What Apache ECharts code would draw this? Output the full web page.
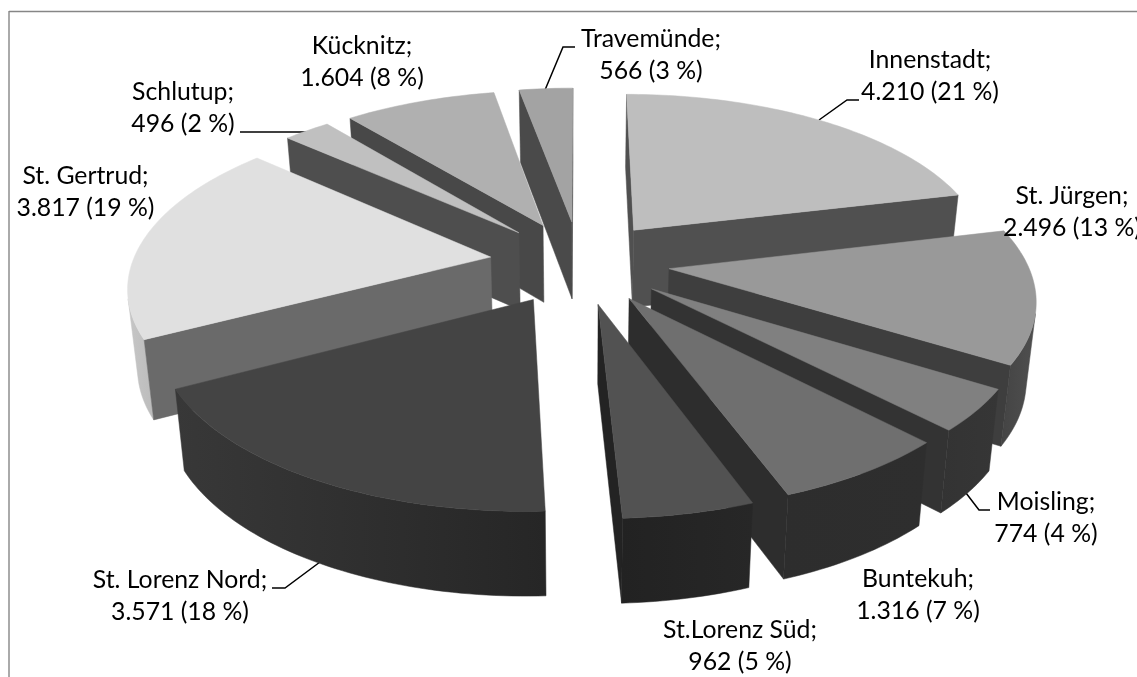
<!DOCTYPE html>
<html><head><meta charset="utf-8">
<style>html,body{margin:0;padding:0;background:#fff}#c{width:1137px;height:677px}</style>
<script src="https://cdn.jsdelivr.net/npm/echarts@6/dist/echarts.min.js"></script>
</head><body><div id="c"></div>
<script>
// Data
const categories = ['Innenstadt','St. Jürgen','Moisling','Buntekuh','St.Lorenz Süd','St. Lorenz Nord','St. Gertrud','Schlutup','Kücknitz','Travemünde'];
const values = [4210,2496,774,1316,962,3571,3817,496,1604,566];
const percentLabels = [21,13,4,7,5,18,19,2,8,3];

// Styles
const topColors    = ['#bebebe','#999999','#808080','#6f6f6f','#525252','#444444','#e0e0e0','#c0c0c0','#b0b0b0','#a3a3a3'];
const radialColors = ['#505050','#3e3e3e','#333333','#2d2d2d','#232323','#333333','#6a6a6a','#4e4e4e','#484848','#4a4a4a'];
const outerFrom    = ['#555555','#4f4f4f','#363636','#2e2e2e','#272727','#383838','#c6c6c6','#555555','#505050','#505050'];
const outerTo      = ['#555555','#444444','#333333','#2d2d2d','#222222','#262626','#bcbcbc','#555555','#505050','#505050'];

// Projection of the tilted, exploded pie
const P = {cx:579.6, cy:262, A:358, B:166, q:0.155, E:0.2514, H:78, bx:0.978};
const project = (X,Y,bottom) => {
  const f = 1/(1+P.q*Y);
  const x = P.cx + P.A*X*f, y = P.cy - P.B*Y*f;
  return bottom ? [P.cx+(x-P.cx)*P.bx, y+P.H*Math.pow(f,0.4)] : [x,y];
};
const area = pts => { let s=0; for(let i=0;i<pts.length;i++){const a=pts[i],b=pts[(i+1)%pts.length]; s+=a[0]*b[1]-b[0]*a[1];} return s/2; };
const total = values.reduce((a,b)=>a+b,0);

// slice angular spans
let acc = 0;
const spans = values.map(v => { const s=acc/total*2*Math.PI; acc+=v; return [s,acc/total*2*Math.PI]; });
// painter's order: back slices first
const order = values.map((_,i)=>i).sort((a,b)=>Math.cos((spans[b][0]+spans[b][1])/2)-Math.cos((spans[a][0]+spans[a][1])/2));

function renderSlice(params, api){
  const i = api.value(0);
  const [t0,t1] = spans[i];
  const mid=(t0+t1)/2;
  const ax=P.E*Math.sin(mid), ay=P.E*Math.cos(mid);
  const rim = (t,b)=>project(ax+Math.sin(t),ay+Math.cos(t),b);
  const aT=project(ax,ay,false), aB=project(ax,ay,true);
  const n=Math.max(6,Math.ceil((t1-t0)/0.02));
  const ts=[]; for(let k=0;k<=n;k++) ts.push(t0+(t1-t0)*k/n);
  const children=[];
  const poly=(pts,fill)=>children.push({type:'polygon',shape:{points:pts},style:{fill:fill,stroke:fill,lineWidth:0.5},silent:true});

  // outer wall: only visible strips, merged into one polygon
  let run=[]; const runs=[];
  for(let k=0;k<n;k++){
    const q=[rim(ts[k+1],false),rim(ts[k],false),rim(ts[k],true),rim(ts[k+1],true)];
    if(area(q)>0){ run.push(k);} else if(run.length){runs.push(run);run=[];}
  }
  if(run.length) runs.push(run);
  runs.forEach(r=>{
    const tops=[],bots=[];
    for(let j=r[0];j<=r[r.length-1]+1;j++){tops.push(rim(ts[j],false));bots.unshift(rim(ts[j],true));}
    const grad=new echarts.graphic.LinearGradient(0,0,1,0,[{offset:0,color:mid>Math.PI?outerFrom[i]:outerTo[i]},{offset:1,color:mid>Math.PI?outerTo[i]:outerFrom[i]}]);
    poly(tops.concat(bots),grad);
  });
  // radial walls, culled when they face away
  const w0=[rim(t0,false),aT,aB,rim(t0,true)];
  const w1=[aT,rim(t1,false),rim(t1,true),aB];
  if(area(w0)>0) poly(w0,radialColors[i]);
  if(area(w1)>0) poly(w1,radialColors[i]);
  // top face
  poly([aT].concat(ts.map(t=>rim(t,false))),topColors[i]);
  return {type:'group',children};
}

// Label layout
const labelPos = [[930,76.5],[1072,212.5],[1046,518.5],[918,595],[740,646.5],[180,596],[85.5,192.5],[183,108.5],[362,62],[651,55]];
const leaders = [
  [[819,120],[847,100],[859,100]],
  null,
  [[966,493],[979,510],[990,510]],
  null,null,
  [[320,562],[285,588],[272,588]],
  null,
  [[240,132],[307,132]],
  null,
  [[545,90],[563,47],[575,47]]
];
const fmt = v => String(v).replace(/\B(?=(\d{3})+$)/g,'.');
const graphics = [
  {type:'line',shape:{x1:9,y1:11.5,x2:1137,y2:11.5},style:{stroke:'#868686',lineWidth:1.4},z:0},
  {type:'line',shape:{x1:9,y1:11,x2:9,y2:677},style:{stroke:'#868686',lineWidth:1.4},z:0}
];
leaders.forEach(l=>{ if(l) graphics.push({type:'polyline',shape:{points:l},style:{stroke:'#000',lineWidth:1.5,fill:null},z:1}); });
categories.forEach((c,i)=>{
  graphics.push({type:'text',x:labelPos[i][0],y:labelPos[i][1],z:20,style:{
    text:c+';\n'+fmt(values[i])+' ('+percentLabels[i]+' %)',
    font:'24.8px Lato',lineHeight:32,fill:'#000',align:'center',verticalAlign:'middle'}});
});

const chart = echarts.init(document.getElementById('c'),null,{renderer:'canvas'});
chart.setOption({
  animation:false,
  backgroundColor:'#fff',
  graphic:graphics,
  series:[{
    type:'custom',coordinateSystem:'none',silent:true,
    renderItem:renderSlice,
    data:order.map(i=>({name:categories[i],value:[i,values[i]]}))
  }]
});
</script></body></html>
